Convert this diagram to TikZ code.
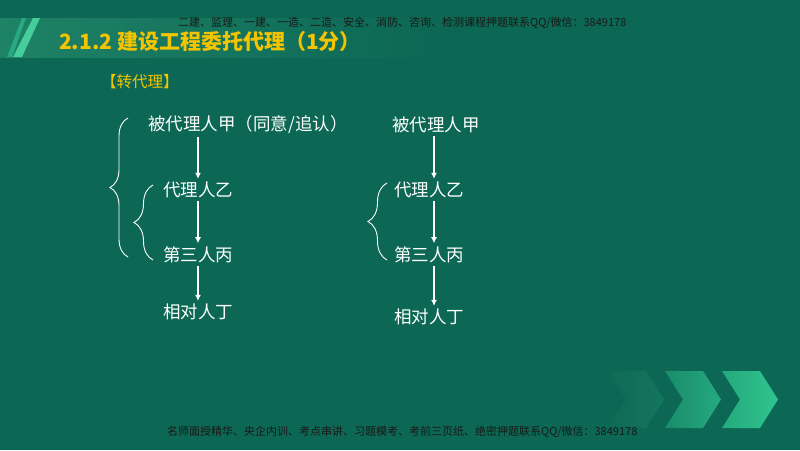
\documentclass[tikz,border=0pt]{standalone}
\usepackage{fontspec}
\usepackage{tikz}
\usetikzlibrary{arrows.meta,positioning,decorations.pathreplacing}
\newfontfamily\cjk{Noto Sans CJK SC}
\definecolor{bg}{RGB}{12,104,84}
\definecolor{bandlight}{RGB}{30,130,102}
\definecolor{slashA}{RGB}{40,170,128}
\definecolor{slashB}{RGB}{70,205,155}
\definecolor{ttlyellow}{RGB}{245,196,0}
\definecolor{wmark}{RGB}{25,25,25}
\definecolor{chevAl}{RGB}{14,106,86}
\definecolor{chevAr}{RGB}{20,118,92}
\definecolor{chevBl}{RGB}{26,140,106}
\definecolor{chevBr}{RGB}{38,170,126}
\definecolor{chevCl}{RGB}{36,170,124}
\definecolor{chevCr}{RGB}{48,196,144}

\begin{document}
\begin{tikzpicture}[x=1pt,y=-1pt,node distance=42pt]
\tikzset{person/.style={text=white, font=\cjk\fontsize{17.5}{20}\selectfont, inner sep=3pt},
  flow/.style={white, line width=1.1pt, -{Latex[length=6pt,width=6pt]}},
  curly/.style={white, line width=0.9pt, decorate, decoration={brace,amplitude=#1}},
  wmtext/.style={text=wmark, font=\cjk\fontsize{11}{13}\selectfont, anchor=west, inner sep=0pt}}
\useasboundingbox (0,0) rectangle (800,450);
\fill[bg] (0,0) rectangle (800,450);

% title band
\shade[left color=bandlight, right color=bg] (0,18) rectangle (430,57);
\fill[slashA] (22,18) -- (26,18) -- (12,57) -- (7,57) -- cycle;
\fill[slashB] (33,18) -- (40,18) -- (22,57) -- (13,57) -- cycle;

% chevrons
\foreach \cx/\cl/\cr in {608/chevAl/chevAr,665/chevBl/chevBr,722/chevCl/chevCr}
  \shade[left color=\cl, right color=\cr] (\cx,371) -- ++(38,0) -- ++(18,28.5) -- ++(-18,28.5) -- ++(-38,0) -- ++(18,-28.5) -- cycle;

\node[wmtext] (wmtop) at (178,23) {二建、监理、一建、一造、二造、安全、消防、咨询、检测课程押题联系QQ/微信：3849178};
\node[wmtext] (wmbot) at (167,432) {名师面授精华、央企内训、考点串讲、习题模考、考前三页纸、绝密押题联系QQ/微信：3849178};

\node[anchor=west, inner sep=0pt, text=ttlyellow, font=\cjk\bfseries\fontsize{21}{24}\selectfont] (title) at (59,42) {2.1.2 建设工程委托代理（1分）};
\node[anchor=west, inner sep=0pt, text=ttlyellow, font=\cjk\fontsize{15.5}{18}\selectfont] (sub) at (101,82) {【转代理】};

% left chain
\node[person, anchor=west] (jia1) at (145,125) {被代理人甲（同意/追认）};
\node[person] (yi1) at (198,190) {代理人乙};
\node[person, below=42pt of yi1] (bing1) {第三人丙};
\node[person, below=35pt of bing1] (ding1) {相对人丁};

\draw[flow] (jia1.south -| bing1) -- (yi1.north -| bing1);
\draw[flow] (yi1.south -| bing1) -- (bing1.north);
\draw[flow] (bing1) -- (ding1);

\draw[curly=18pt] (128,257) -- (128,118);
\draw[curly=19pt] (153,260) -- (153,185);

% right chain
\node[person] (jia2) at (436,125) {被代理人甲};
\node[person] (yi2) at (429,190) {代理人乙};
\node[person, below=42pt of yi2] (bing2) {第三人丙};
\node[person, below=40pt of bing2] (ding2) {相对人丁};

\draw[flow] (jia2.south -| 434,0) -- (yi2.north -| 434,0);
\draw[flow] (yi2.south -| 434,0) -- (bing2.north -| 434,0);
\draw[flow] (bing2.south -| 434,0) -- (ding2.north -| 434,0);

\draw[curly=19pt] (387,260) -- (387,183);
\end{tikzpicture}
\end{document}
